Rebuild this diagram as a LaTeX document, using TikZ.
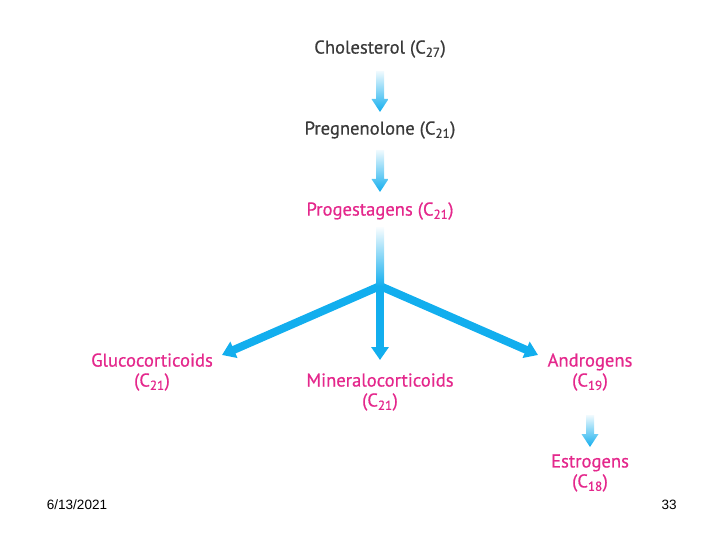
\documentclass[tikz,border=0pt]{standalone}
\usepackage{fontspec}
\setmainfont{PT Sans}
\newfontfamily\lblfont{PT Sans}[BoldFont={PT Sans}, BoldFeatures={FakeBold=0.6}]
\newfontfamily\footfont{Liberation Sans}
\usetikzlibrary{arrows.meta,calc}
\definecolor{cy}{RGB}{18,174,238}
\definecolor{mg}{RGB}{228,40,140}
\definecolor{gy}{RGB}{58,58,58}
\newcommand\gradarrow[2]{%
  \shade[top color=cy!6, bottom color=cy] let \p1=(#1), \p2=(#2) in
    (\x1-4pt,\y1) -- (\x1+4pt,\y1) -- (\x1+4pt,\y2+13pt) -- (\x1+8.5pt,\y2+13pt)
    -- (\x1,\y2) -- (\x1-8.5pt,\y2+13pt) -- (\x1-4pt,\y2+13pt) -- cycle;}
\begin{document}
\begin{tikzpicture}[x=1pt,y=-1pt,
  lbl/.style={font=\lblfont\bfseries\fontsize{18.6}{20}\selectfont, align=center, inner sep=1pt},
  blk/.style={lbl,text=gy},
  pnk/.style={lbl,text=mg},
  foot/.style={font=\footfont\fontsize{13.5}{15}\selectfont, text=black, inner sep=0pt},
  solidarrow/.style={draw=cy, line width=8pt, -{Triangle[width=17pt,length=13pt]}}]
\useasboundingbox (0,0) rectangle (720,540);
% labels
\node[blk] (chol) at (380,49) {Cholesterol (C\textsubscript{27})};
\node[blk] (preg) at (380,130) {Pregnenolone (C\textsubscript{21})};
\node[pnk] (prog) at (380,211) {Progestagens (C\textsubscript{21})};
\node[pnk] (gluco) at (152,372) {Glucocorticoids\\(C\textsubscript{21})};
\node[pnk] (mineral) at (380,392) {Mineralocorticoids\\(C\textsubscript{21})};
\node[pnk] (andro) at (590,372) {Androgens\\(C\textsubscript{19})};
\node[pnk] (estro) at (590,473) {Estrogens\\(C\textsubscript{18})};
\node[foot] (date) at (77,505) {6/13/2021};
\node[foot] (page) at (669,505) {33};
% connector ends
\coordinate (a1s) at ($(chol)+(0,22)$);
\coordinate (a1e) at ($(preg)+(0,-18)$);
\coordinate (a2s) at ($(preg)+(0,20)$);
\coordinate (a2e) at ($(prog)+(0,-19)$);
\coordinate (st) at ($(prog)+(0,17)$);
\coordinate (J) at ($(prog)+(0,75)$);
\coordinate (gt) at ($(gluco)+(70,-17)$);
\coordinate (mt) at ($(mineral)+(0,-32)$);
\coordinate (at) at ($(andro)+(-52,-17)$);
\coordinate (a5s) at ($(andro)+(0,43)$);
\coordinate (a5e) at ($(estro)+(0,-26)$);
% arrows
\gradarrow{a1s}{a1e}
\gradarrow{a2s}{a2e}
\draw[solidarrow] (J) -- (gt);
\draw[solidarrow] (J) -- (at);
\draw[solidarrow] ($(J)+(0,-3)$) -- (mt);
\shade[top color=cy!4, bottom color=cy] let \p1=(st), \p2=(J) in
  (\x1-4pt,\y1) rectangle (\x2+4pt,\y2);
\gradarrow{a5s}{a5e}
\end{tikzpicture}
\end{document}
